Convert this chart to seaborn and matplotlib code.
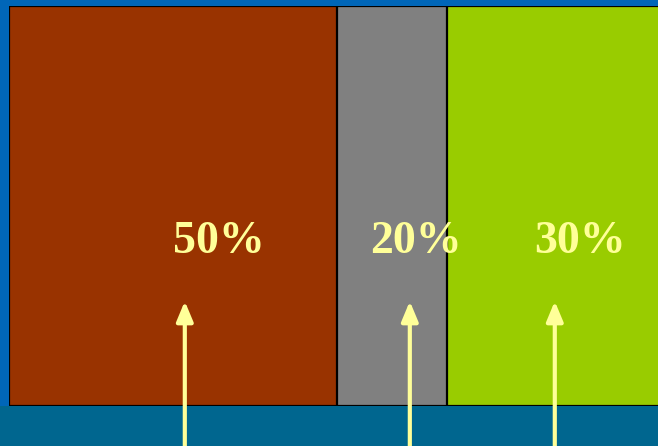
import numpy as np
import pandas as pd
import seaborn as sns
import matplotlib.pyplot as plt
from matplotlib.patches import Rectangle

# segments (box widths, in % of the axis)
segments = ['brown', 'gray', 'green']
box_width = [50, 16.7, 33.3]
labels = ['50%', '20%', '30%']
colors = ['#993300', '#808080', '#99cc00']
label_x = [32, 62, 87]
arrow_x = [26.8, 61.1, 83.2]

sns.set_style('white')
fig = plt.figure(figsize=(6.58, 4.46), dpi=100)
fig.patch.set_facecolor('#0066b8')
fig.patches.append(Rectangle((0, 0), 1, 40 / 446, transform=fig.transFigure,
                             facecolor='#00668f', edgecolor='none', zorder=-5))

ax = fig.add_axes([9 / 658, 40 / 446, 656 / 658, 400 / 446])

# stacked bar drawn as overlaid cumulative bars, widest first
cum = np.cumsum(box_width)
df = pd.DataFrame({'seg': segments, 'end': cum, 'row': ['a'] * 3})
for i in range(len(segments) - 1, -1, -1):
    sns.barplot(x=[df['end'][i]], y=['a'], orient='h', width=1.0,
                color=colors[i], saturation=1, edgecolor='black',
                linewidth=1.6, ax=ax)

ax.set_xlim(0, 100)
ax.set_ylim(0.5, -0.5)
ax.axis('off')

for lx, lab in zip(label_x, labels):
    ax.text(lx, 0.41, lab, transform=ax.get_xaxis_transform(),
            ha='center', va='center', color='#ffff99', fontsize=33,
            fontweight='bold', family='Liberation Serif')

for axx in arrow_x:
    ann = ax.annotate('', xy=(axx, 0.262), xytext=(axx, -0.11),
                      xycoords=ax.get_xaxis_transform(),
                      textcoords=ax.get_xaxis_transform(),
                      annotation_clip=False,
                      arrowprops=dict(arrowstyle='-|>,head_length=0.6,head_width=0.25',
                                      mutation_scale=20, lw=3, color='#ffff99',
                                      shrinkA=0, shrinkB=0))
    ann.arrow_patch.set_clip_on(False)
    ann.arrow_patch.set_zorder(5)

fig.savefig('out.png', dpi=100, facecolor=fig.get_facecolor())
